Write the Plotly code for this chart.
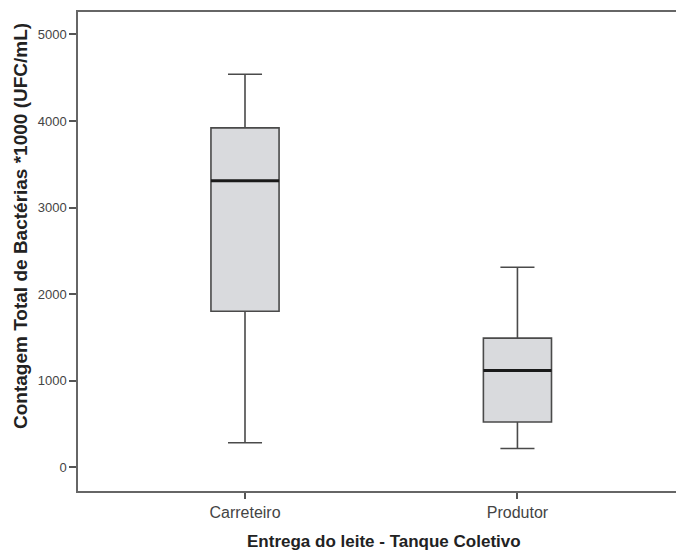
import plotly.graph_objects as go

categories = ["Carreteiro", "Produtor"]
lower_whisker = [280, 215]
q1 = [1800, 520]
median = [3310, 1115]
q3 = [3920, 1490]
upper_whisker = [4540, 2310]
y_ticks = [0, 1000, 2000, 3000, 4000, 5000]

BOX_W = 0.25
pos = list(range(len(categories)))

fig = go.Figure()
for i, c in enumerate(categories):
    fig.add_trace(go.Box(
        x=[pos[i]], q1=[q1[i]], median=[median[i]], q3=[q3[i]],
        lowerfence=[lower_whisker[i]], upperfence=[upper_whisker[i]],
        width=BOX_W, whiskerwidth=0.5,
        fillcolor="rgb(217,218,221)",
        line=dict(color="#4a4a4a", width=1.6),
        boxpoints=False, showlegend=False, hoverinfo="skip", name=c,
    ))
    fig.add_trace(go.Scatter(
        x=[pos[i] - BOX_W / 2, pos[i] + BOX_W / 2], y=[median[i], median[i]],
        mode="lines", line=dict(color="#1a1a1a", width=3),
        showlegend=False, hoverinfo="skip",
    ))

fig.update_layout(
    width=676, height=550,
    margin=dict(l=78, r=0, t=12, b=59),
    paper_bgcolor="white", plot_bgcolor="white",
    font=dict(family="Liberation Sans, Arial, sans-serif", color="#444"),
    xaxis=dict(
        range=[-0.613, 1.582], tickvals=pos, ticktext=categories,
        showline=True, mirror=True, linecolor="#666", linewidth=1.5,
        ticks="outside", ticklen=6, tickcolor="#555", tickwidth=1.5,
        showgrid=False, zeroline=False,
        tickfont=dict(size=16, color="#444"),
    ),
    yaxis=dict(
        range=[-277, 5260], tickvals=y_ticks,
        showline=True, linecolor="#666", linewidth=1.5,
        ticks="outside", ticklen=7, tickcolor="#555", tickwidth=1.5,
        showgrid=False, zeroline=False,
        tickfont=dict(size=13, color="#444"),
    ),
    annotations=[
        dict(text="<b>Entrega do leite - Tanque Coletivo</b>", xref="paper", yref="paper",
             x=(384 - 78) / 598, y=-(541 - 491) / 479, xanchor="center", yanchor="middle",
             showarrow=False, font=dict(size=17, color="#222")),
        dict(text="<b>Contagem Total de Bactérias *1000 (UFC/mL)</b>", xref="paper", yref="paper",
             x=-(78 - 20) / 598, y=(491 - 226) / 479, xanchor="center", yanchor="middle",
             textangle=-90, showarrow=False, font=dict(size=19, color="#222")),
    ],
)

fig.write_html("out.html")
